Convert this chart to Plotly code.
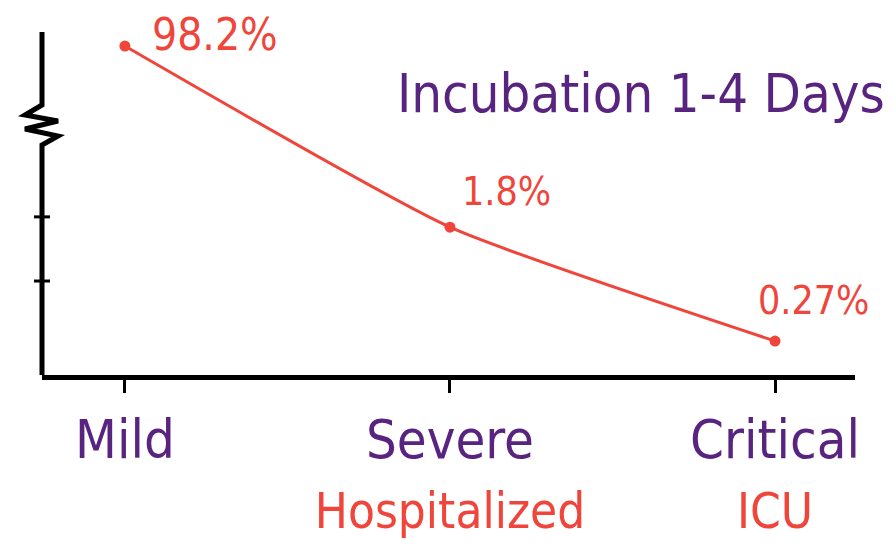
import plotly.graph_objects as go

# ---- data ----
stages = ["Mild", "Severe", "Critical"]
sub_labels = ["", "Hospitalized", "ICU"]
pct_labels = ["98.2%", "1.8%", "0.27%"]
# height at which the sketch draws each point on its broken (non-linear) axis, 0-100
drawn_level = [95.9, 43.1, 9.9]
y_tick_levels = [27.4, 46.1]
title_text = "Incubation 1-4 Days"

PURPLE = "#58247f"
RED = "#ef453b"
FONT = "Liberation Sans Narrow, DejaVu Sans Condensed, Arial Narrow, sans-serif"

ticktext = []
for s, sub in zip(stages, sub_labels):
    t = f"<span style='color:{PURPLE}'>{s}</span>"
    if sub:
        t += f"<br><span style='color:{RED};font-size:49px'>{sub}</span>"
    ticktext.append(t)

fig = go.Figure()
fig.add_trace(go.Scatter(
    x=stages, y=drawn_level, mode="lines+markers",
    line=dict(color=RED, width=3, shape="spline", smoothing=0.5),
    marker=dict(color=RED, size=11),
    cliponaxis=False, hoverinfo="skip", showlegend=False,
))

# percentage labels
label_styles = [(25, 12, 44), (10, 36, 39), (-19, 41, 39)]
for st, lv, txt, (dx, dy, fs) in zip(stages, drawn_level, pct_labels, label_styles):
    fig.add_annotation(x=st, y=lv, xref="x", yref="y", text=txt, showarrow=False,
                       xanchor="left", yanchor="middle", xshift=dx, yshift=dy,
                       font=dict(family=FONT, size=fs, color=RED))

fig.add_annotation(x=0.737, y=0.82, xref="paper", yref="paper", text=title_text,
                   showarrow=False, xanchor="center", yanchor="middle",
                   font=dict(family=FONT, size=54, color=PURPLE))

# broken y axis line with zigzag
def yp(p):
    return (375 - p) / 343.0

zig = [(0, yp(32)), (0, yp(105)), (-17, yp(115)), (16, yp(121)), (-17, yp(129)),
       (16, yp(136)), (0, yp(145)), (0, yp(375))]
path = "M " + " L ".join(f"{x},{y:.4f}" for x, y in zig)
fig.add_shape(type="path", path=path, xref="paper", yref="paper", xsizemode="pixel",
              xanchor=0, line=dict(color="black", width=5))
for lv in y_tick_levels:
    fig.add_shape(type="line", xref="paper", yref="y", xsizemode="pixel", xanchor=0,
                  x0=-8, x1=8, y0=lv, y1=lv, line=dict(color="black", width=3))

fig.update_layout(
    width=896, height=549, margin=dict(l=34, r=49, t=24, b=182),
    paper_bgcolor="white", plot_bgcolor="white",
    xaxis=dict(type="category", range=[-0.255, 2.246], showline=True, linecolor="black",
               linewidth=5, ticks="outside", ticklen=13, tickwidth=3, tickcolor="black",
               showgrid=False, zeroline=False, tickvals=stages, ticktext=ticktext,
               tickfont=dict(family=FONT, size=54, color=PURPLE), fixedrange=True,
               automargin=False),
    yaxis=dict(range=[0, 100], showline=False, showticklabels=False, showgrid=False,
               zeroline=False, ticks="", fixedrange=True, automargin=False),
)

fig.write_html("out.html")
